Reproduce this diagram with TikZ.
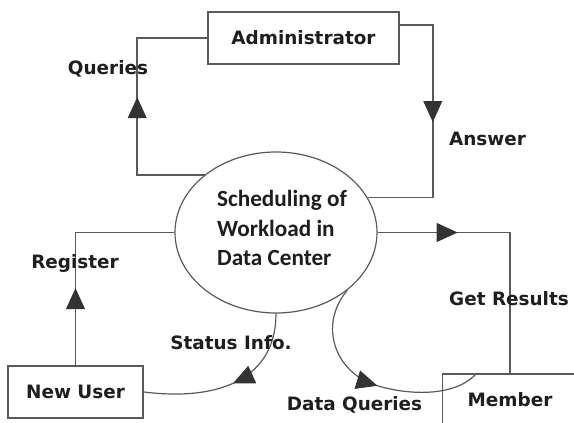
\documentclass[tikz,border=0pt]{standalone}
\usepackage{fontspec}
\setmainfont{DejaVu Sans}
\newfontfamily\procfont{Carlito}
\usetikzlibrary{arrows.meta,decorations.markings,calc,shapes.geometric}

\definecolor{linegray}{HTML}{5A5A5A}
\definecolor{tipgray}{HTML}{333333}
\definecolor{inkdark}{HTML}{1E1E1E}

\begin{document}
\begin{tikzpicture}[x=0.5pt,y=-0.5pt,
  entity/.style={draw=linegray, line width=0.8pt, inner sep=0pt,
    minimum width=67.5pt, minimum height=26pt,
    font=\fontsize{9.2}{11}\selectfont\bfseries, text=inkdark},
  process/.style={draw=linegray, line width=0.6pt, ellipse, inner sep=0pt,
    minimum width=101pt, minimum height=80.5pt},
  proclabel/.style={align=left, inner sep=0pt, text=inkdark,
    font=\procfont\bfseries\fontsize{11.6}{14.75}\selectfont},
  flowlabel/.style={inner sep=0pt, text=inkdark,
    font=\fontsize{9.2}{11}\selectfont\bfseries},
  flow/.style={draw=linegray, line width=0.8pt},
  curvedflow/.style={draw=linegray, line width=0.6pt},
  tipat/.style={postaction={decorate}, decoration={markings,
    mark=at position #1 with {\arrow[line width=0.4pt, draw=tipgray, fill=tipgray]{Triangle[length=10.5pt,width=9.5pt]}}}}
]
\clip (0,0) rectangle (574,423);
\fill[white] (0,0) rectangle (574,423);

% external entities and the central process
\node[entity, minimum width=95.5pt] (adm) at (303.5,38) {Administrator};
\node[entity] (nu) at (75.5,392) {New User};
\node[entity] (mem) at (510,400) {Member};
\node[process] (ell) at (276,232.5) {};
\node[proclabel] (proctext) at (282,228) {Scheduling of\\Workload in\\Data Center};

% data flows
\draw[flow, tipat=72.5pt] (ell.141.9) -| ($(adm.west)+(-70,0)$) -- (adm.west);
\draw[flow, tipat=65pt] ($(adm.east)+(0,-13)$) -| ($(adm.east)+(33,0)$) |- (ell.21.4);
\draw[flow, tipat=38.5pt] (nu.north) |- (ell.west);
\draw[flow, tipat=40pt] (ell.east) -| (mem.north);
\draw[curvedflow, tipat=43.5pt] (ell.south) .. controls (276,375) and (225,402) .. (nu.east);
\draw[curvedflow, tipat=60pt] (ell.-39) .. controls (318,325) and (335,372) .. (375,385)
  .. controls (406,395) and (455,398) .. ($(mem.north west)+(35,0)$);

% flow labels
\node[flowlabel] (lq) at (108,69) {Queries};
\node[flowlabel] (la) at (487.5,139) {Answer};
\node[flowlabel] (lr) at (75,263) {Register};
\node[flowlabel] (lg) at (509,299) {Get Results};
\node[flowlabel] (ls) at (231,343) {Status Info.};
\node[flowlabel] (ld) at (354.5,405) {Data Queries};
\end{tikzpicture}
\end{document}
